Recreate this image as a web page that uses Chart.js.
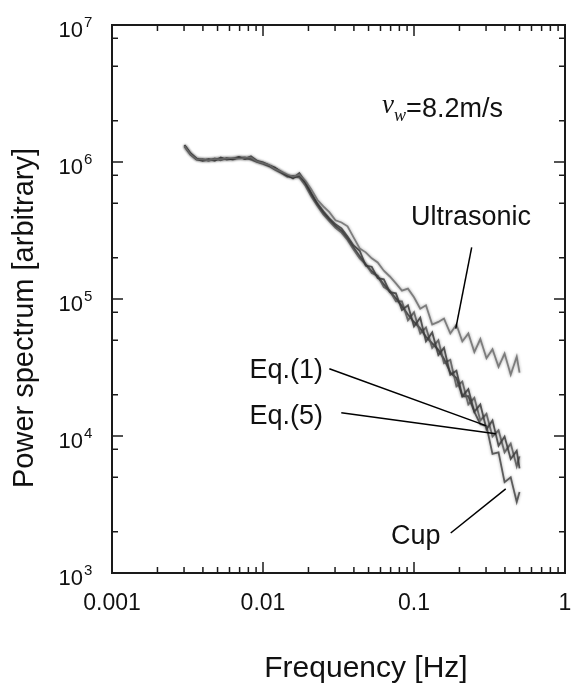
<!DOCTYPE html>
<html>
<head>
<meta charset="utf-8">
<script src="https://cdn.jsdelivr.net/npm/chart.js@4/dist/chart.umd.min.js"></script>
<style>
  html, body { margin: 0; padding: 0; background: #ffffff; }
  #wrap { width: 576px; height: 684px; position: relative; }
</style>
</head>
<body>
<div id="wrap"><canvas id="c" width="576" height="684"></canvas></div>
<script>
// ---------- data ----------
const frequency = [
  0.00302, 0.00331, 0.00363, 0.00398, 0.00437, 0.00479, 0.00525, 0.00575, 0.00631, 0.00692,
  0.00759, 0.00832, 0.00912, 0.0100, 0.0110, 0.0120, 0.0132, 0.0145, 0.0158, 0.0174,
  0.0191, 0.0209, 0.0229, 0.0251, 0.0275, 0.0302, 0.0331, 0.0363, 0.0398, 0.0437,
  0.0479, 0.0525, 0.0575, 0.0631, 0.0692, 0.0759, 0.0832, 0.0912, 0.100, 0.110,
  0.120, 0.132, 0.145, 0.158, 0.174, 0.191, 0.209, 0.229, 0.251, 0.275,
  0.302, 0.331, 0.363, 0.398, 0.437, 0.479, 0.500
];
const ultrasonic = [
  1.31e6, 1.14e6, 1.05e6, 1.04e6, 1.03e6, 1.05e6, 1.05e6, 1.06e6, 1.07e6, 1.06e6,
  1.07e6, 1.08e6, 1.01e6, 9.8e5, 9.5e5, 8.9e5, 8.5e5, 8.1e5, 7.8e5, 8.1e5,
  7.3e5, 6.3e5, 5.3e5, 4.74e5, 4.30e5, 3.75e5, 3.62e5, 3.39e5, 2.82e5, 2.34e5,
  2.19e5, 1.98e5, 1.85e5, 1.61e5, 1.46e5, 1.30e5, 1.15e5, 1.19e5, 1.03e5, 8.5e4,
  9.0e4, 6.5e4, 6.8e4, 7.2e4, 5.6e4, 6.5e4, 4.9e4, 5.6e4, 4.1e4, 5.1e4,
  3.7e4, 4.3e4, 3.2e4, 4.0e4, 2.8e4, 3.8e4, 2.9e4
];
const eq1 = [
  1.33e6, 1.16e6, 1.06e6, 1.03e6, 1.05e6, 1.02e6, 1.08e6, 1.04e6, 1.06e6, 1.09e6,
  1.05e6, 1.10e6, 1.02e6, 9.96e5, 9.47e5, 9.1e5, 8.41e5, 8.0e5, 7.6e5, 8.3e5,
  7.11e5, 5.91e5, 4.99e5, 4.36e5, 3.88e5, 3.51e5, 3.28e5, 2.86e5, 2.46e5, 2.25e5,
  1.75e5, 1.72e5, 1.42e5, 1.39e5, 1.12e5, 1.10e5, 8.3e4, 9.0e4, 6.3e4, 7.3e4,
  4.9e4, 5.7e4, 3.9e4, 4.4e4, 2.8e4, 3.0e4, 1.95e4, 2.2e4, 1.5e4, 1.7e4,
  1.12e4, 1.3e4, 8.5e3, 9.9e3, 6.8e3, 7.8e3, 5.8e3
];
const eq5 = [
  1.30e6, 1.13e6, 1.04e6, 1.05e6, 1.02e6, 1.06e6, 1.03e6, 1.07e6, 1.04e6, 1.07e6,
  1.08e6, 1.04e6, 1.00e6, 9.7e5, 9.3e5, 8.8e5, 8.3e5, 7.8e5, 7.9e5, 7.7e5,
  6.7e5, 5.6e5, 4.8e5, 4.15e5, 3.70e5, 3.30e5, 3.05e5, 2.70e5, 2.30e5, 1.98e5,
  1.80e5, 1.55e5, 1.48e5, 1.22e5, 1.15e5, 9.6e4, 9.6e4, 7.0e4, 8.0e4, 5.6e4,
  6.2e4, 4.4e4, 5.0e4, 3.4e4, 3.6e4, 2.3e4, 2.5e4, 1.7e4, 1.9e4, 1.3e4,
  1.45e4, 9.9e3, 1.1e4, 7.6e3, 8.8e3, 6.0e3, 7.1e3
];
const cup = [
  1.32e6, 1.15e6, 1.05e6, 1.02e6, 1.04e6, 1.04e6, 1.06e6, 1.05e6, 1.05e6, 1.08e6,
  1.06e6, 1.06e6, 1.01e6, 9.8e5, 9.4e5, 9.0e5, 8.5e5, 7.9e5, 7.7e5, 7.9e5,
  7.0e5, 5.8e5, 4.9e5, 4.25e5, 3.80e5, 3.40e5, 3.15e5, 2.75e5, 2.38e5, 2.05e5,
  1.78e5, 1.60e5, 1.45e5, 1.28e5, 1.13e5, 1.01e5, 8.9e4, 7.7e4, 6.8e4, 6.1e4,
  5.3e4, 4.75e4, 4.25e4, 3.65e4, 2.9e4, 2.65e4, 1.95e4, 1.95e4, 1.5e4, 1.22e4,
  1.18e4, 7.4e3, 7.6e3, 4.6e3, 5.0e3, 3.3e3, 3.9e3
];
const seriesNames = ['Ultrasonic', 'Eq.(1)', 'Eq.(5)', 'Cup'];
const xTickValues = [0.001, 0.01, 0.1, 1];
const xTickLabels = ['0.001', '0.01', '0.1', '1'];
const yTickValues = [1e3, 1e4, 1e5, 1e6, 1e7];
const yTickExponents = ['3', '4', '5', '6', '7'];
const yMinorMultipliers = [2, 5, 8];
const xTitle = 'Frequency [Hz]';
const yTitle = 'Power spectrum [arbitrary]';

// annotation anchors, in data coordinates (frequency, power)
const labelAnchors = [
  { text: 'Ultrasonic', at: [0.0955, 3.44e5], from: [0.241, 2.38e5], to: [0.189, 6.08e4] },
  { text: 'Eq.(1)',     at: [0.00815, 2.67e4], from: [0.0275, 3.1e4], to: [0.299, 1.19e4] },
  { text: 'Eq.(5)',     at: [0.00815, 1.23e4], from: [0.033, 1.48e4], to: [0.348, 1.04e4] },
  { text: 'Cup',        at: [0.0705, 1.63e3], from: [0.175, 1.96e3], to: [0.405, 4.11e3] }
];
const speedAnchor = [0.0615, 2.12e6];

// ---------- chart ----------
function pts(ys) { return frequency.map((f, i) => ({ x: f, y: ys[i] })); }

const softLines = {
  id: 'softLines',
  beforeDatasetsDraw(chart) {
    const ctx = chart.ctx;
    ctx.save();
    ctx.shadowColor = 'rgba(0,0,0,0.45)';
    ctx.shadowBlur = 3;
  },
  afterDatasetsDraw(chart) { chart.ctx.restore(); }
};

const frameAndText = {
  id: 'frameAndText',
  afterDraw(chart) {
    const ctx = chart.ctx;
    const xs = chart.scales.x, ys = chart.scales.y;
    const a = chart.chartArea;
    ctx.save();
    ctx.strokeStyle = '#1a1a1a';
    ctx.fillStyle = '#111';

    // ticks (inward, all four sides)
    ctx.lineWidth = 1.5;
    const majorLen = 11, minorLen = 6;
    function vTick(px, len) {
      ctx.beginPath(); ctx.moveTo(px, a.bottom); ctx.lineTo(px, a.bottom - len); ctx.stroke();
      ctx.beginPath(); ctx.moveTo(px, a.top); ctx.lineTo(px, a.top + len); ctx.stroke();
    }
    function hTick(py, len) {
      ctx.beginPath(); ctx.moveTo(a.left, py); ctx.lineTo(a.left + len, py); ctx.stroke();
      ctx.beginPath(); ctx.moveTo(a.right, py); ctx.lineTo(a.right - len, py); ctx.stroke();
    }
    xTickValues.forEach((v, i) => {
      vTick(xs.getPixelForValue(v), majorLen);
      if (i < xTickValues.length - 1) {
        for (let m = 2; m <= 9; m++) vTick(xs.getPixelForValue(v * m), minorLen);
      }
    });
    yTickValues.forEach((v, i) => {
      hTick(ys.getPixelForValue(v), majorLen);
      if (i < yTickValues.length - 1) {
        yMinorMultipliers.forEach(m => hTick(ys.getPixelForValue(v * m), minorLen));
      }
    });

    // frame
    ctx.lineWidth = 2;
    ctx.strokeRect(a.left, a.top, a.right - a.left, a.bottom - a.top);

    // x tick labels
    ctx.font = '23px "Liberation Sans", Arial, sans-serif';
    ctx.textAlign = 'center';
    ctx.textBaseline = 'alphabetic';
    xTickValues.forEach((v, i) => {
      ctx.fillText(xTickLabels[i], xs.getPixelForValue(v), a.bottom + 37);
    });

    // y tick labels 10^n
    yTickValues.forEach((v, i) => {
      const py = ys.getPixelForValue(v);
      const right = a.left - 20;
      const supW = 9;
      ctx.textAlign = 'right';
      ctx.font = '22px "Liberation Sans", Arial, sans-serif';
      ctx.fillText('10', right - supW, py + 12);
      ctx.font = '15px "Liberation Sans", Arial, sans-serif';
      ctx.textAlign = 'left';
      ctx.fillText(yTickExponents[i], right - supW + 1, py + 2);
    });

    // axis titles
    ctx.textAlign = 'center';
    ctx.font = '30px "Liberation Sans", Arial, sans-serif';
    ctx.fillText(xTitle, 366, 677);
    ctx.save();
    ctx.font = '29px "Liberation Sans", Arial, sans-serif';
    ctx.translate(33, 318);
    ctx.rotate(-Math.PI / 2);
    ctx.fillText(yTitle, 0, 0);
    ctx.restore();

    // annotations
    ctx.font = '27px "Liberation Sans", Arial, sans-serif';
    ctx.textAlign = 'left';
    ctx.lineWidth = 1.5;
    ctx.strokeStyle = '#000';
    labelAnchors.forEach(l => {
      ctx.fillText(l.text, xs.getPixelForValue(l.at[0]), ys.getPixelForValue(l.at[1]));
      ctx.beginPath();
      ctx.moveTo(xs.getPixelForValue(l.from[0]), ys.getPixelForValue(l.from[1]));
      ctx.lineTo(xs.getPixelForValue(l.to[0]), ys.getPixelForValue(l.to[1]));
      ctx.stroke();
    });

    // v_w = 8.2 m/s
    const sx = xs.getPixelForValue(speedAnchor[0]);
    const sy = ys.getPixelForValue(speedAnchor[1]);
    ctx.font = 'italic 27px "Liberation Serif", "Times New Roman", serif';
    ctx.fillText('v', sx, sy - 4);
    let w = ctx.measureText('v').width;
    ctx.font = 'italic 18px "Liberation Serif", "Times New Roman", serif';
    ctx.fillText('w', sx + w, sy + 4);
    w += ctx.measureText('w').width;
    ctx.font = '27px "Liberation Sans", Arial, sans-serif';
    ctx.fillText('=8.2m/s', sx + w, sy);

    ctx.restore();
  }
};

const lineStyle = (color) => ({
  borderColor: color, backgroundColor: color, borderWidth: 1.8,
  pointRadius: 0, tension: 0, fill: false
});

new Chart(document.getElementById('c'), {
  type: 'line',
  data: {
    datasets: [
      Object.assign({ label: seriesNames[0], data: pts(ultrasonic) }, lineStyle('rgba(110,110,110,0.85)')),
      Object.assign({ label: seriesNames[1], data: pts(eq1) }, lineStyle('rgba(60,60,60,0.85)')),
      Object.assign({ label: seriesNames[2], data: pts(eq5) }, lineStyle('rgba(90,90,90,0.85)')),
      Object.assign({ label: seriesNames[3], data: pts(cup) }, lineStyle('rgba(70,70,70,0.85)'))
    ]
  },
  options: {
    responsive: false,
    animation: false,
    layout: { padding: { left: 112, right: 11, top: 25, bottom: 111 } },
    plugins: { legend: { display: false }, tooltip: { enabled: false } },
    scales: {
      x: { type: 'logarithmic', min: 0.001, max: 1, display: false },
      y: { type: 'logarithmic', min: 1e3, max: 1e7, display: false }
    }
  },
  plugins: [softLines, frameAndText]
});
</script>
</body>
</html>
